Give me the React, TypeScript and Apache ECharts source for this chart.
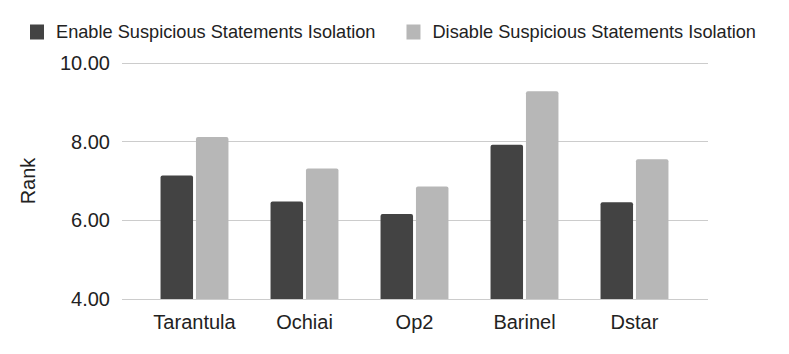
import React, { useEffect, useRef } from "react";
import * as echarts from "echarts";

const categories = ["Tarantula", "Ochiai", "Op2", "Barinel", "Dstar"];
const enableValues = [7.14, 6.48, 6.16, 7.92, 6.46];
const disableValues = [8.12, 7.32, 6.86, 9.28, 7.55];
const seriesNames = ["Enable Suspicious Statements Isolation", "Disable Suspicious Statements Isolation"];
const yMin = 4;
const yMax = 10;
const yInterval = 2;

export default function App() {
  const ref = useRef<HTMLDivElement>(null);
  useEffect(() => {
    if (!ref.current) return;
    const chart = echarts.init(ref.current, null, { renderer: "svg" });
    const font = "Liberation Sans, Arial, sans-serif";
    chart.setOption({
      animation: false,
      textStyle: { fontFamily: font },
      legend: {
        top: 18,
        left: 25,
        itemWidth: 14,
        itemHeight: 15,
        itemGap: 31,
        icon: "rect",
        textStyle: { fontSize: 18.2, color: "#222", fontFamily: font, padding: [0, 0, 0, 7] },
        data: seriesNames,
      },
      grid: [
        { left: 122, right: 81, top: 63, bottom: 55 },
        { left: 139.5, right: 99.5, top: 63, bottom: 55 },
      ],
      xAxis: [
        { type: "value", gridIndex: 0, show: false, min: 0, max: 1 },
        {
          type: "category",
          gridIndex: 1,
          data: categories,
          axisLine: { show: false },
          axisTick: { show: false },
          axisLabel: { fontSize: 20, color: "#222", margin: 13, interval: 0, fontFamily: font },
        },
      ],
      yAxis: [
        {
          type: "value",
          gridIndex: 0,
          min: yMin,
          max: yMax,
          interval: yInterval,
          name: "Rank",
          nameLocation: "middle",
          nameGap: 84,
          nameRotate: 90,
          nameTextStyle: { fontSize: 20, color: "#222", fontFamily: font },
          axisLine: { show: false },
          axisTick: { show: false },
          axisLabel: {
            fontSize: 20,
            color: "#222",
            margin: 12,
            fontFamily: font,
            formatter: (v: number) => v.toFixed(2),
          },
          splitLine: { lineStyle: { color: "#cccccc", width: 1 } },
        },
        {
          type: "value",
          gridIndex: 1,
          min: yMin,
          max: yMax,
          interval: yInterval,
          show: false,
          splitLine: { show: false },
        },
      ],
      series: [
        {
          name: seriesNames[0],
          type: "bar",
          xAxisIndex: 1,
          yAxisIndex: 1,
          data: enableValues,
          barWidth: 32.5,
          barGap: "9%",
          itemStyle: { color: "#434343", borderRadius: [2, 2, 0, 0] },
        },
        {
          name: seriesNames[1],
          type: "bar",
          xAxisIndex: 1,
          yAxisIndex: 1,
          data: disableValues,
          barWidth: 32.5,
          itemStyle: { color: "#b7b7b7", borderRadius: [2, 2, 0, 0] },
        },
      ],
    });
    return () => chart.dispose();
  }, []);
  return (
    <div
      ref={ref}
      style={{ position: "fixed", left: 0, top: 0, width: 789, height: 354, background: "#fff" }}
    />
  );
}
